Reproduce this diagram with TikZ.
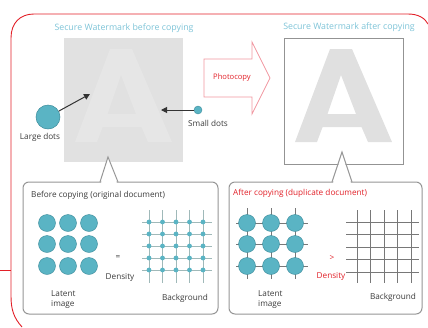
\documentclass[tikz,border=0pt]{standalone}
\usepackage{fontspec}
\setmainfont{Open Sans}
\usetikzlibrary{arrows.meta}
\definecolor{cRed}{RGB}{226,32,40}
\definecolor{cPink}{RGB}{240,150,160}
\definecolor{cTitle}{RGB}{125,195,215}
\definecolor{cTeal}{RGB}{90,180,196}
\definecolor{cTealD}{RGB}{60,140,155}
\definecolor{cBox}{RGB}{150,150,150}
\definecolor{cSq}{RGB}{225,225,225}
\definecolor{cSqA}{RGB}{230,230,230}
\definecolor{cA}{RGB}{224,224,224}
\definecolor{cGridL}{RGB}{160,185,185}
\definecolor{cGridR}{RGB}{120,120,120}
\definecolor{cTxt}{RGB}{60,60,60}
\begin{document}
\begin{tikzpicture}[x=1pt,y=-1pt,
  redframe/.style={draw=cRed,line width=0.9pt},
  ttl/.style={text=cTitle,font=\fontsize{8.8}{10}\selectfont,inner sep=0},
  lbl/.style={text=cTxt,font=\fontsize{8.2}{10}\selectfont,inner sep=0},
  rlbl/.style={lbl,text=cRed},
  bigdot/.style={circle,fill=cTeal,draw=cTealD,line width=0.5pt,minimum size=24pt,inner sep=0},
  smalldot/.style={circle,fill=cTeal,draw=cTealD,line width=0.4pt,minimum size=8pt,inner sep=0},
  latdot/.style={circle,fill=cTeal,draw=cTealD,line width=0.4pt,minimum size=17pt,inner sep=0},
  callout/.style={draw=cBox,line width=1pt,rounded corners=6pt,fill=white,inner sep=0},
  ptr/.style={draw=cBox,line width=1pt,line join=miter},
  blk/.style={-{Triangle[length=6pt,width=6pt]},line width=1pt,black!80},
]
\useasboundingbox (0,0) rectangle (428,327);

% red frame
\draw[redframe] (0,270) -- (11,270);
\draw[redframe] (22,327) .. controls (14,318) and (11,310) .. (11,296) -- (11,38)
  .. controls (11,23) and (20,14) .. (34,14) -- (408,14)
  .. controls (418,14) and (425,18) .. (428,24);

% titles
\node[ttl] (t1) at (124,28) {Secure Watermark before copying};
\node[ttl] (t2) at (349,27) {Secure Watermark after copying};

% left square with faint A
\node[fill=cSq,minimum width=119pt,minimum height=124pt,inner sep=0] (sqL) at (123.5,100) {};
\fill[cSqA,even odd rule] (75,142) -- (110,49) -- (132,49) -- (172,142) -- (148,142) -- (141.5,127) -- (102.6,127) -- (97,142) -- cycle
  (107.5,114) -- (121,75) -- (136,114) -- cycle;

% right square with A
\node[draw=cGridR!80,line width=0.9pt,minimum width=119pt,minimum height=126pt,inner sep=0] (sqR) at (343.5,101) {};
\fill[cA,even odd rule] (295,142) -- (330,49) -- (352,49) -- (392,142) -- (368,142) -- (361.5,127) -- (322.6,127) -- (317,142) -- cycle
  (327.5,114) -- (341,75) -- (356,114) -- cycle;

% dots and arrows
\node[bigdot] (ld) at (48,117) {};
\node[lbl,anchor=north] (ldl) at (40,133) {Large dots};
\coordinate (ldt) at (90,94);
\draw[blk] (ld) -- (ldt);
\node[smalldot] (sd) at (198,110) {};
\node[lbl,anchor=north] (sdl) at (208,120) {Small dots};
\coordinate (sdt) at (161,110);
\draw[blk] (sd) -- (sdt);

% photocopy arrow
\draw[draw=cPink,line width=0.8pt,line join=miter] (204,59) -- (252,59) -- (252,42) -- (270,78) -- (252,114) -- (252,97) -- (204,97) -- cycle;
\node[rlbl,font=\fontsize{7.6}{8}\selectfont] (pc) at (232,78) {Photocopy};

% callout boxes
\node[callout,minimum width=195pt,minimum height=132pt] (boxL) at (120.5,248) {};
\coordinate (pL) at (108,157);
\fill[white] (101,183.6) -- (pL) -- (117,183.6) -- cycle;
\draw[ptr] (100,182) -- (pL) -- (118,182);

\node[callout,minimum width=193pt,minimum height=132pt] (boxR) at (325.5,248) {};
\coordinate (pR) at (342,152);
\fill[white] (333,183.6) -- (pR) -- (351,183.6) -- cycle;
\draw[ptr] (332,182) -- (pR) -- (352,182);

% left box content
\node[lbl,anchor=west] (hL) at (31,195) {Before copying (original document)};
\foreach \i/\x in {1/47,2/68,3/89}{
  \foreach \j/\y in {1/223,2/244,3/266}{
    \node[latdot] (lL\i\j) at (\x,\y) {};
  }
}
\node[lbl,anchor=north west,align=left] (ltL) at (51,290) {Latent\\image};
\node[lbl] (eqL) at (118,258) {=};
\node[lbl] (dnL) at (120,277) {Density};
\foreach \x in {149,162.5,176,189.5,203}{
  \draw[cGridL,line width=0.7pt] (\x,210) -- (\x,283);
}
\foreach \y in {222,234,246,258,270}{
  \draw[cGridL,line width=0.7pt] (142,\y) -- (212,\y);
}
\foreach \x in {149,162.5,176,189.5,203}{
  \foreach \y in {222,234,246,258,270}{
    \fill[cTeal] (\x,\y) circle (2.4pt);
  }
}
\node[lbl] (bgL) at (185,298) {Background};

% right box content
\node[rlbl,anchor=west] (hR) at (233,193) {After copying (duplicate document)};
\foreach \x in {247,271,295}{
  \draw[cGridR,line width=0.5pt] (\x,208) -- (\x,279);
}
\foreach \y in {223,244,266}{
  \draw[cGridR,line width=0.5pt] (236,\y) -- (308,\y);
}
\foreach \i/\x in {1/247,2/271,3/295}{
  \foreach \j/\y in {1/223,2/244,3/266}{
    \node[latdot] (lR\i\j) at (\x,\y) {};
  }
}
\node[lbl,anchor=north west,align=left] (ltR) at (258,290) {Latent\\image};
\node[rlbl] (gtR) at (332,258) {>};
\node[rlbl] (dnR) at (331,276) {Density};
\foreach \x in {357,370.5,384,397.5,411}{
  \draw[cGridR,line width=0.6pt] (\x,210) -- (\x,283);
}
\foreach \y in {222,234.5,247,259.5,272}{
  \draw[cGridR,line width=0.6pt] (346,\y) -- (419,\y);
}
\node[lbl] (bgR) at (393,297) {Background};
\end{tikzpicture}
\end{document}
